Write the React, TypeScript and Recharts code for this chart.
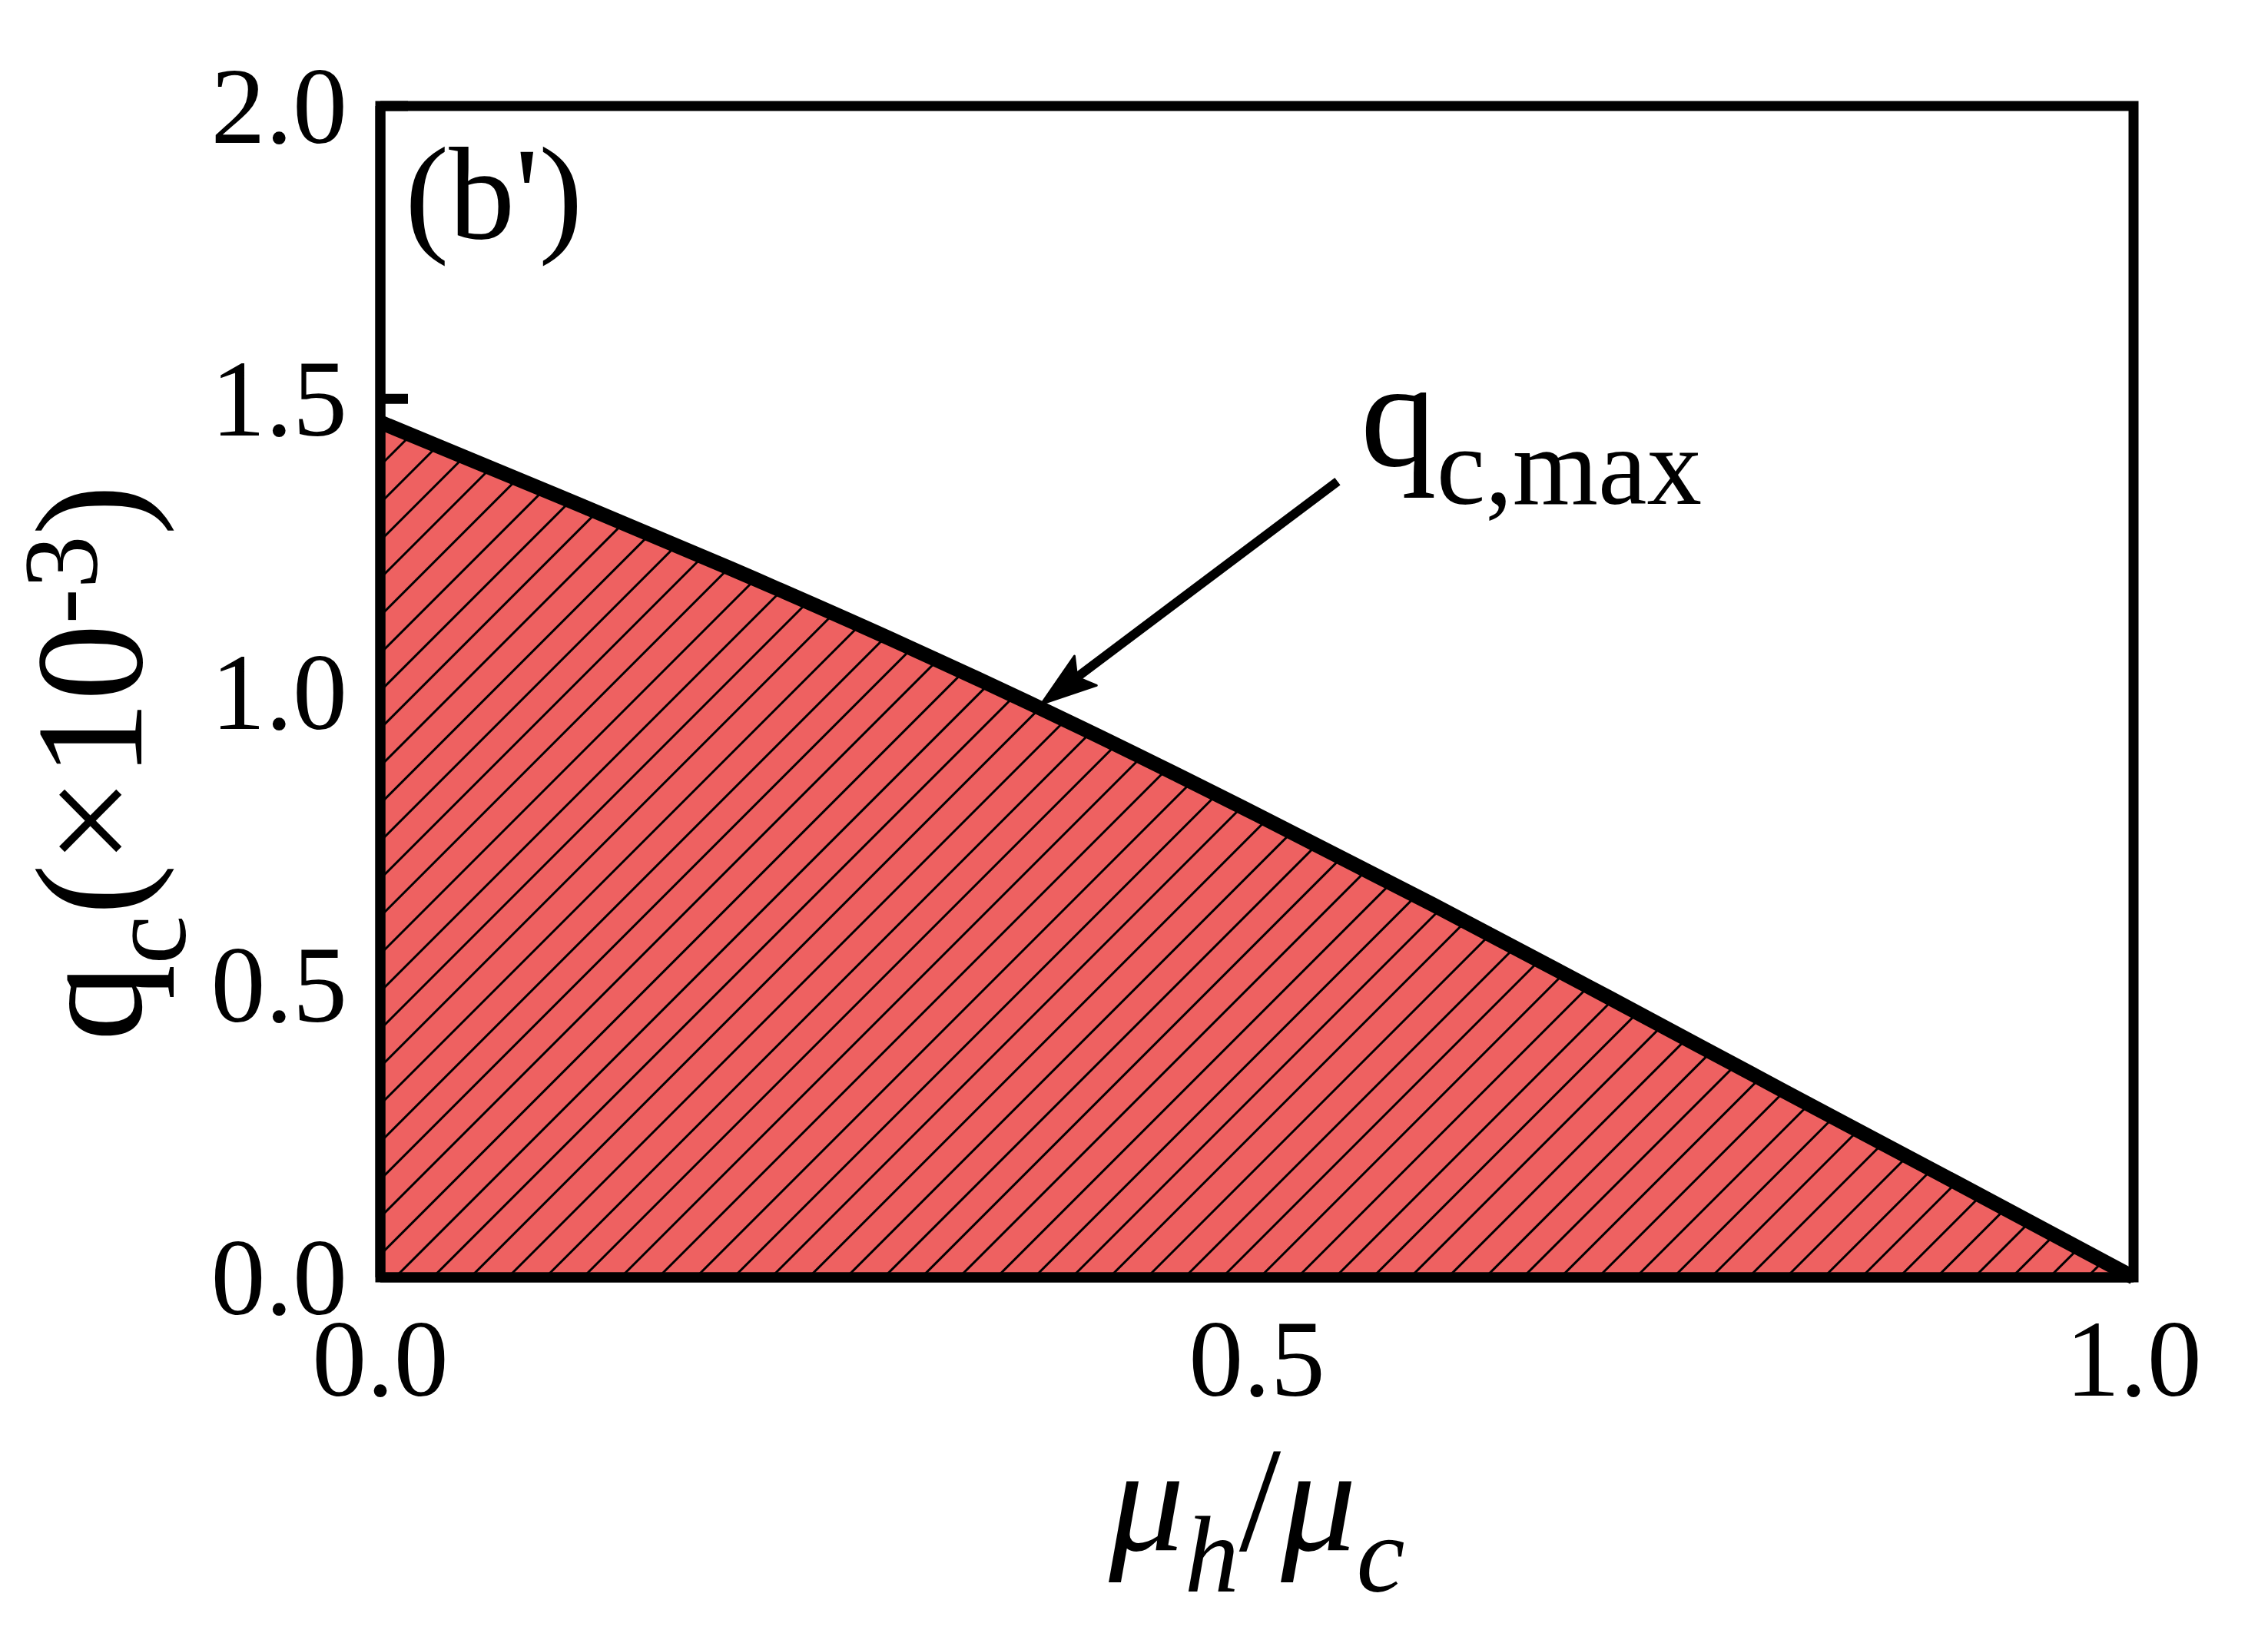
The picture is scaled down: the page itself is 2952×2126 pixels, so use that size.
import {
  Area,
  AreaChart,
  ReferenceArea,
  ReferenceDot,
  ReferenceLine,
  XAxis,
  YAxis,
} from "recharts";

// mu_h / mu_c on the x axis, q_c (x10^-3) on the y axis
const muRatio = [0, 0.1, 0.2, 0.3, 0.4, 0.5, 0.6, 0.7, 0.8, 0.9, 1.0];
const qcMax = [1.46, 1.336, 1.21, 1.078, 0.938, 0.79, 0.637, 0.479, 0.319, 0.16, 0];

const xTicks = [0, 0.5, 1.0];
const yTicks = [0, 0.5, 1.0, 1.5, 2.0];

// annotation anchors, in data units
const arrowFrom = { x: 0.546, y: 1.359 };
const arrowTo = { x: 0.377, y: 0.979 };
const panelLabelAt = { x: 0.014, y: 1.775 };
const qLabelAt = { x: 0.559, y: 1.386 };

const data = muRatio.map((x, i) => ({ x, q: qcMax[i] }));

const FONT = "'Liberation Serif', 'Times New Roman', serif";
const RED = "#EE6161";
const HATCH = 34.6;

const YTick = (props: any) => {
  const { x, y, payload } = props;
  // ticks below the curve are hidden by the filled region
  const showLine = payload.value >= qcMax[0];
  return (
    <g>
      {showLine && (
        <line x1={x} x2={x + 36} y1={y} y2={y} stroke="#000" strokeWidth={13} />
      )}
      <text
        x={x - 43}
        y={y}
        dy={48}
        textAnchor="end"
        fontFamily={FONT}
        fontSize={142}
        fill="#000"
      >
        {Number(payload.value).toFixed(1)}
      </text>
    </g>
  );
};

const XTick = (props: any) => {
  const { x, y, payload } = props;
  return (
    <text
      x={x}
      y={y}
      dy={154}
      textAnchor="middle"
      fontFamily={FONT}
      fontSize={142}
      fill="#000"
    >
      {Number(payload.value).toFixed(1)}
    </text>
  );
};

const ArrowShape = (props: any) => {
  const { x1, y1, x2, y2 } = props;
  const dx = x2 - x1;
  const dy = y2 - y1;
  const len = Math.sqrt(dx * dx + dy * dy) || 1;
  const ux = dx / len;
  const uy = dy / len;
  const px = -uy;
  const py = ux;
  const headLen = 72;
  const notch = 58;
  const half = 24;
  const bx = x2 - ux * headLen;
  const by = y2 - uy * headLen;
  const nx = x2 - ux * notch;
  const ny = y2 - uy * notch;
  return (
    <g>
      <line x1={x1} y1={y1} x2={nx} y2={ny} stroke="#000" strokeWidth={12} />
      <polygon
        points={`${x2},${y2} ${bx + px * half},${by + py * half} ${nx},${ny} ${bx - px * half},${by - py * half}`}
        fill="#000"
        stroke="#000"
        strokeWidth={3}
        strokeLinejoin="round"
      />
    </g>
  );
};

const PanelLabel = (props: any) => (
  <text x={props.cx} y={props.cy} fontFamily={FONT} fontSize={172} fill="#000">
    (b')
  </text>
);

const QLabel = (props: any) => (
  <text x={props.cx} y={props.cy} fontFamily={FONT} fontSize={198} fill="#000">
    q
    <tspan fontSize={143} dy={50}>
      c,max
    </tspan>
  </text>
);

const YLabel = () => {
  const cx = 184;
  const cy = 993;
  return (
    <text
      x={cx}
      y={cy}
      transform={`rotate(-90, ${cx}, ${cy})`}
      textAnchor="middle"
      fontFamily={FONT}
      fontSize={200}
      fill="#000"
    >
      q
      <tspan fontSize={144} dy={57}>
        c
      </tspan>
      <tspan dy={-57}>(×10</tspan>
      <tspan fontSize={138} dy={-58}>
        -3
      </tspan>
      <tspan dy={58}>)</tspan>
    </text>
  );
};

const XLabel = (props: any) => {
  const vb = props.viewBox || {};
  const cx = (vb.x ?? 495) + (vb.width ?? 2282) / 2;
  const y = 2018;
  return (
    <text
      x={cx}
      y={y}
      textAnchor="middle"
      fontFamily={FONT}
      fontSize={196}
      fontStyle="italic"
      fill="#000"
    >
      μ
      <tspan fontSize={142} dy={54}>
        h
      </tspan>
      <tspan dy={-54} fontStyle="normal">
        /
      </tspan>
      <tspan>μ</tspan>
      <tspan fontSize={142} dy={54}>
        c
      </tspan>
    </text>
  );
};

export default function App() {
  return (
    <div style={{ position: "absolute", left: 0, top: 0, width: 2952, height: 2126, background: "#fff" }}>
      <AreaChart
        width={2952}
        height={2126}
        data={data}
        margin={{ top: 138, right: 175, bottom: 0, left: 0 }}
      >
        <defs>
          <pattern
            id="hatch"
            patternUnits="userSpaceOnUse"
            width={HATCH}
            height={HATCH}
            patternTransform="rotate(45)"
          >
            <rect x={0} y={0} width={HATCH} height={HATCH} fill={RED} />
            <line x1={HATCH / 2} y1={0} x2={HATCH / 2} y2={HATCH} stroke="#000" strokeWidth={3} />
          </pattern>
        </defs>
        <XAxis
          dataKey="x"
          type="number"
          domain={[0, 1]}
          ticks={xTicks}
          height={463}
          tickSize={0}
          tickMargin={0}
          tickLine={false}
          axisLine={{ stroke: "#000", strokeWidth: 13 }}
          tick={<XTick />}
          label={<XLabel />}
          interval={0}
        />
        <YAxis
          type="number"
          domain={[0, 2]}
          ticks={yTicks}
          width={495}
          tickSize={0}
          tickMargin={0}
          tickLine={false}
          axisLine={{ stroke: "#000", strokeWidth: 13 }}
          tick={<YTick />}
          label={<YLabel />}
          interval={0}
        />
        <Area
          type="monotone"
          dataKey="q"
          stroke="#000"
          strokeWidth={19}
          fill="url(#hatch)"
          fillOpacity={1}
          isAnimationActive={false}
          dot={false}
          activeDot={false}
        />
        <ReferenceArea
          x1={0}
          x2={1}
          y1={0}
          y2={2}
          fill="none"
          stroke="#000"
          strokeWidth={13}
          ifOverflow="visible"
        />
        <ReferenceLine
          segment={[arrowFrom, arrowTo]}
          shape={<ArrowShape />}
          ifOverflow="visible"
        />
        <ReferenceDot
          x={panelLabelAt.x}
          y={panelLabelAt.y}
          r={0}
          shape={<PanelLabel />}
          ifOverflow="visible"
        />
        <ReferenceDot
          x={qLabelAt.x}
          y={qLabelAt.y}
          r={0}
          shape={<QLabel />}
          ifOverflow="visible"
        />
      </AreaChart>
    </div>
  );
}
